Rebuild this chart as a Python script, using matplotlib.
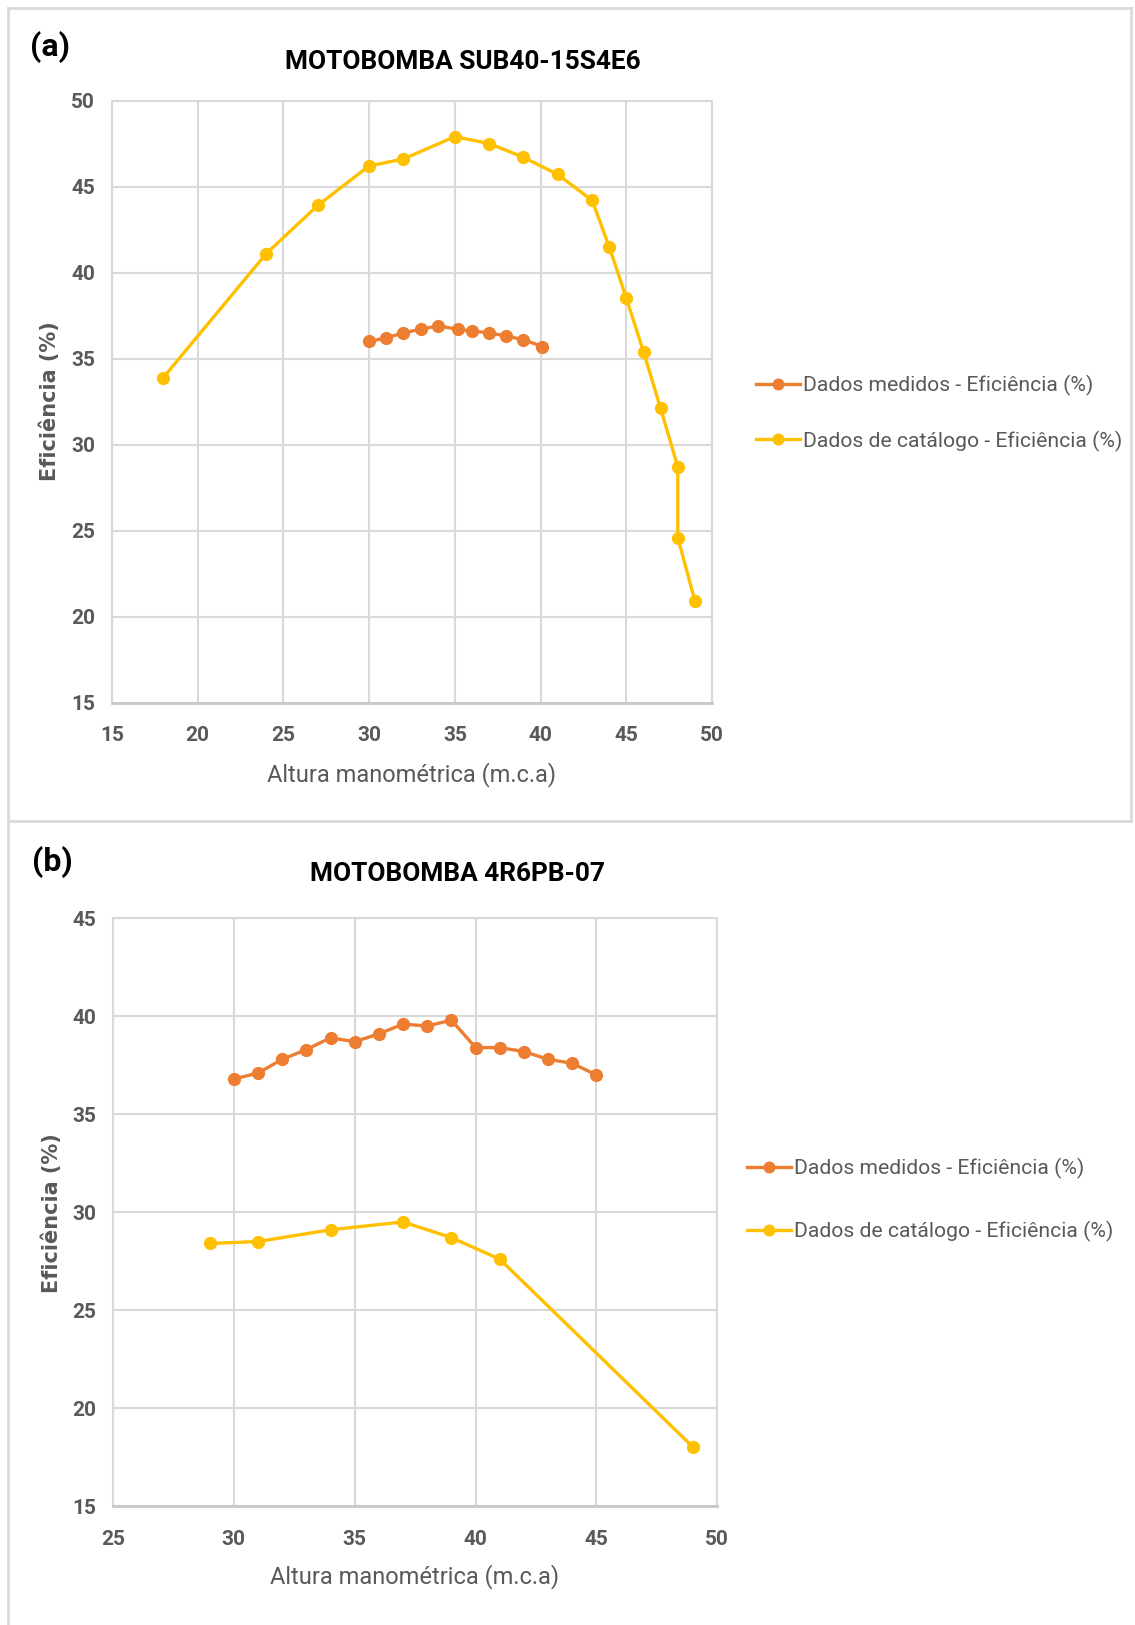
import matplotlib
matplotlib.use("Agg")
import matplotlib.pyplot as plt
from matplotlib.lines import Line2D

# ---- data ----
# (a) MOTOBOMBA SUB40-15S4E6
a_med_x = [30, 31, 32, 33, 34, 35.2, 36, 37, 38, 39, 40.1]
a_med_y = [36.0, 36.2, 36.5, 36.7, 36.9, 36.7, 36.6, 36.5, 36.3, 36.1, 35.7]
a_cat_x = [18, 24, 27, 30, 32, 35, 37, 39, 41, 43, 44, 45, 46, 47, 48, 48, 49]
a_cat_y = [33.9, 41.1, 43.9, 46.2, 46.6, 47.9, 47.5, 46.7, 45.7, 44.2, 41.5,
           38.5, 35.4, 32.1, 28.7, 24.6, 20.9]

# (b) MOTOBOMBA 4R6PB-07
b_med_x = [30, 31, 32, 33, 34, 35, 36, 37, 38, 39, 40, 41, 42, 43, 44, 45]
b_med_y = [36.8, 37.1, 37.8, 38.3, 38.9, 38.7, 39.1, 39.6, 39.5, 39.8,
           38.4, 38.4, 38.2, 37.8, 37.6, 37.0]
b_cat_x = [29, 31, 34, 37, 39, 41, 49]
b_cat_y = [28.4, 28.5, 29.1, 29.5, 28.7, 27.6, 18.0]

lbl_med = "Dados medidos - Eficiência (%)"
lbl_cat = "Dados de catálogo - Eficiência (%)"
xlabel = "Altura manométrica (m.c.a)"
ylabel = "Eficiência (%)"

ORANGE = "#ED7D31"
YELLOW = "#FFC000"
GRID = "#D9D9D9"
TXT = "#595959"

plt.rcParams["font.family"] = ["Roboto", "DejaVu Sans"]

W, H = 1135, 1625
fig = plt.figure(figsize=(W / 100, H / 100), dpi=100)


def fx(px):
    return px / W


def fy(py):
    return 1 - py / H


# chart borders
for (x0, y0, x1, y1) in [(8, 8, 1131, 8), (8, 8, 8, 1625), (1131, 8, 1131, 821),
                         (8, 821, 1131, 821)]:
    fig.add_artist(Line2D([fx(x0), fx(x1)], [fy(y0), fy(y1)], color=GRID, lw=2))


def panel(rect, xlim, ylim, med, cat, tag, tagpos, title, titlepos,
          xlpos, ylpos, legpos, legspace):
    ax = fig.add_axes(rect)
    ax.set_xlim(*xlim)
    ax.set_ylim(*ylim)
    ax.set_xticks(range(xlim[0], xlim[1] + 1, 5))
    ax.set_yticks(range(ylim[0], ylim[1] + 1, 5))
    ax.grid(True, color=GRID, lw=1.5)
    ax.set_axisbelow(True)
    for s in ax.spines.values():
        s.set_color(GRID)
        s.set_linewidth(1.5)
    ax.spines["bottom"].set_color("#C8C8C8")
    ax.spines["bottom"].set_linewidth(2)
    ax.tick_params(length=0, labelsize=15, labelcolor=TXT)
    ax.tick_params(axis="x", pad=17)
    ax.tick_params(axis="y", pad=12)
    for t in ax.get_xticklabels() + ax.get_yticklabels():
        t.set_fontweight("bold")
    ax.plot(med[0], med[1], "-o", color=ORANGE, lw=2.4, ms=8.5, label=lbl_med)
    ax.plot(cat[0], cat[1], "-o", color=YELLOW, lw=2.4, ms=8.5, label=lbl_cat)
    fig.text(fx(tagpos[0]), fy(tagpos[1]), tag, fontsize=23, fontweight="bold",
             ha="center", va="center")
    fig.text(fx(titlepos[0]), fy(titlepos[1]), title, fontsize=18.9,
             fontweight="bold", ha="center", va="center")
    fig.text(fx(xlpos[0]), fy(xlpos[1]), xlabel, fontsize=17, color=TXT,
             ha="center", va="center")
    fig.text(fx(ylpos[0]), fy(ylpos[1]), ylabel, fontsize=15, color=TXT,
             fontweight="bold", family="DejaVu Sans", rotation=90,
             ha="center", va="center")
    ax.legend(loc="center left", bbox_to_anchor=(fx(legpos[0]), fy(legpos[1])),
              bbox_transform=fig.transFigure, frameon=False, fontsize=15.2,
              labelcolor=TXT, handlelength=2.1, handletextpad=0.15,
              borderpad=0, labelspacing=legspace, markerscale=0.9)
    return ax


panel([fx(111.9), fy(702.7), fx(712.1 - 111.9), (702.7 - 100.5) / H],
      (15, 50), (15, 50), (a_med_x, a_med_y), (a_cat_x, a_cat_y),
      "(a)", (50, 47), "MOTOBOMBA SUB40-15S4E6", (463, 62),
      (412, 775), (50, 401), (745, 413), 1.65)

panel([fx(113), fy(1506), fx(717.3 - 113), (1506 - 918.3) / H],
      (25, 50), (15, 45), (b_med_x, b_med_y), (b_cat_x, b_cat_y),
      "(b)", (52, 862), "MOTOBOMBA 4R6PB-07", (457, 874),
      (415, 1577), (52, 1213), (736, 1200), 2.0)

fig.savefig("out.png", dpi=100)
